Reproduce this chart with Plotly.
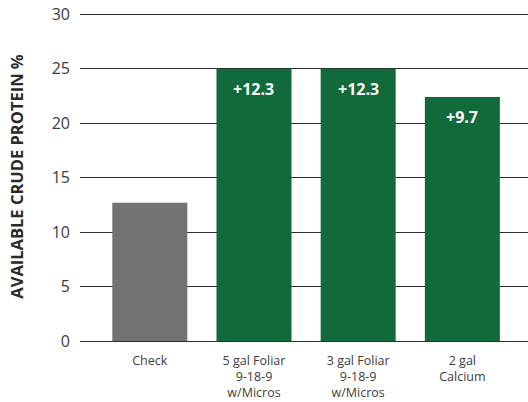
import plotly.graph_objects as go

categories = ["Check", "5 gal Foliar<br>9-18-9<br>w/Micros", "3 gal Foliar<br>9-18-9<br>w/Micros", "2 gal<br>Calcium"]
values = [12.7, 25.0, 25.0, 22.4]
bar_labels = ["", "+12.3", "+12.3", "+9.7"]
bar_colors = ["#717271", "#106a3a", "#106a3a", "#106a3a"]
y_ticks = [0, 5, 10, 15, 20, 25, 30]

fig = go.Figure()
fig.add_trace(go.Bar(
    x=list(range(len(categories))), y=values,
    marker=dict(color=bar_colors, line=dict(width=0)),
    width=0.72, hoverinfo="skip",
))

for i, (v, t) in enumerate(zip(values, bar_labels)):
    if t:
        fig.add_annotation(x=i, y=v, text="<b>%s</b>" % t, showarrow=False,
                           yanchor="top", yshift=-7,
                           font=dict(family="Open Sans", size=16, color="white"))

fig.update_layout(
    width=528, height=402,
    margin=dict(l=80, r=0, t=12, b=61, autoexpand=False),
    paper_bgcolor="white", plot_bgcolor="white",
    showlegend=False,
    font=dict(family="Open Sans", color="#3c3c3c"),
)
fig.update_xaxes(
    range=[-0.67, 3.63],
    tickmode="array", tickvals=list(range(len(categories))), ticktext=categories,
    tickfont=dict(size=12.5, color="#3c3c3c"),
    showgrid=False, zeroline=False, showline=False, ticks="",
    ticklabelstandoff=10, automargin=False, ticklabeloverflow="allow",
)
fig.update_yaxes(
    range=[0, 30.2], tickmode="array", tickvals=y_ticks,
    tickfont=dict(size=16, color="#3c3c3c"),
    showgrid=True, gridcolor="#2e2e2e", gridwidth=1,
    zeroline=True, zerolinecolor="#2e2e2e", zerolinewidth=1,
    showline=False, ticks="", ticklabelstandoff=9, automargin=False,
    ticklabeloverflow="allow",
    title=dict(text="<b>AVAILABLE CRUDE PROTEIN %</b>",
               font=dict(size=16.5, color="#2a2a2a"), standoff=23),
)

fig.write_html("out.html",
               config={"displayModeBar": False},
               post_script="document.body.style.margin='0';document.body.style.overflow='hidden';")
